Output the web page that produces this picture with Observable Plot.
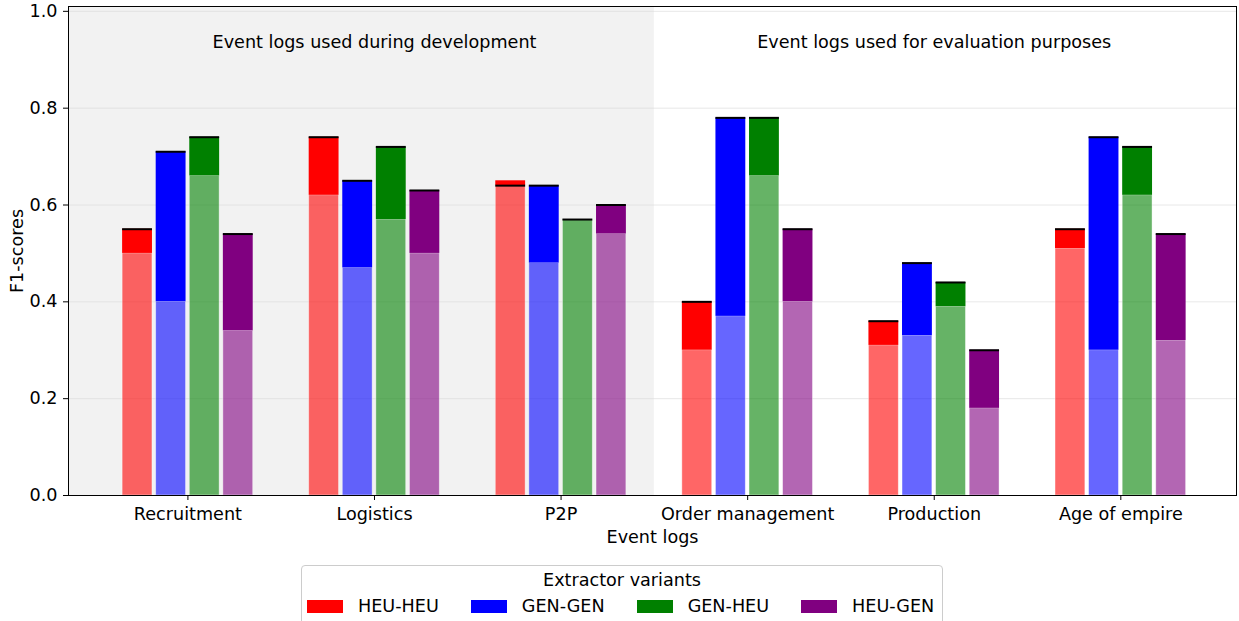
<!DOCTYPE html>
<html>
<head>
<meta charset="utf-8">
<script src="https://cdn.jsdelivr.net/npm/d3@7"></script>
<script src="https://cdn.jsdelivr.net/npm/@observablehq/plot@0.6"></script>
<style>
  body { margin: 0; background: #fff; font-family: "DejaVu Sans", sans-serif; }
  #chart { width: 1239px; }
  #chart svg { display: block; }
  .legend-box {
    margin-left: 301px; margin-top: 6px; width: 642px; height: 70px;
    border: 1px solid #cccccc; border-radius: 4px; background: #fff;
    font-size: 17.6px; color: #000; box-sizing: border-box;
    font-family: "DejaVu Sans", sans-serif; white-space: nowrap;
  }
  .legend-box .ttl { text-align: center; margin-top: 4px; line-height: 21px; }
  .legend-box .items { display: flex; margin-top: 5px; padding-left: 5px; line-height: 21px; }
  .legend-box .item { display: flex; flex: none; align-items: center; margin-right: 32px; }
  .legend-box .sw { flex: none; width: 36px; height: 13px; margin-right: 15px; }
  .legend-box .lbl { flex: none; white-space: nowrap; }
</style>
</head>
<body>
<div id="chart"></div>
<script>
// Event logs (x categories) and extractor variants (bar series)
const eventLogs = ["Recruitment", "Logistics", "P2P", "Order management", "Production", "Age of empire"];
const variants = ["HEU-HEU", "GEN-GEN", "GEN-HEU", "HEU-GEN"];
const variantColors = ["red", "blue", "green", "purple"];

// Lower F1-score per variant (light part of each bar), one value per event log
const lowHEUHEU = [0.50, 0.62, 0.64, 0.30, 0.31, 0.51];
const lowGENGEN = [0.40, 0.47, 0.48, 0.37, 0.33, 0.30];
const lowGENHEU = [0.66, 0.57, 0.57, 0.66, 0.39, 0.62];
const lowHEUGEN = [0.34, 0.50, 0.54, 0.40, 0.18, 0.32];

// Upper F1-score per variant (solid part of each bar)
const highHEUHEU = [0.55, 0.74, 0.65, 0.40, 0.36, 0.55];
const highGENGEN = [0.71, 0.65, 0.64, 0.78, 0.48, 0.74];
const highGENHEU = [0.74, 0.72, 0.57, 0.78, 0.44, 0.72];
const highHEUGEN = [0.54, 0.63, 0.60, 0.55, 0.30, 0.54];

// F1-score marked with a black line on each bar
const markHEUHEU = [0.55, 0.74, 0.64, 0.40, 0.36, 0.55];
const markGENGEN = [0.71, 0.65, 0.64, 0.78, 0.48, 0.74];
const markGENHEU = [0.74, 0.72, 0.57, 0.78, 0.44, 0.72];
const markHEUGEN = [0.54, 0.63, 0.60, 0.55, 0.30, 0.54];

const yTicks = [0, 0.2, 0.4, 0.6, 0.8, 1.0];
const regionTitles = ["Event logs used during development", "Event logs used for evaluation purposes"];
const legendTitle = "Extractor variants";

const lows = [lowHEUHEU, lowGENGEN, lowGENHEU, lowHEUGEN];
const highs = [highHEUHEU, highGENGEN, highGENHEU, highHEUGEN];
const marks = [markHEUHEU, markGENGEN, markGENHEU, markHEUGEN];

// Group layout: bar width and spacing in x units (one unit per event log)
const barStep = 0.18, barWidth = 0.16;
const xDomain = [-0.64, 5.62];
const devEnd = 2.5; // boundary between development and evaluation logs

const rows = [];
eventLogs.forEach((log, i) => {
  variants.forEach((v, j) => {
    const xc = i + (j - 1.5) * barStep;
    rows.push({log, variant: v, x1: xc - barWidth / 2, x2: xc + barWidth / 2,
      low: lows[j][i], high: highs[j][i], mark: marks[j][i]});
  });
});

const regions = [
  {x1: xDomain[0], x2: devEnd, xc: 1, title: regionTitles[0], fill: "#f2f2f2"},
  {x1: devEnd, x2: xDomain[1], xc: 4, title: regionTitles[1], fill: "#ffffff"}
];

const plot = Plot.plot({
  width: 1239,
  height: 559,
  marginLeft: 68,
  marginRight: 3,
  marginTop: 6,
  marginBottom: 64,
  style: {fontFamily: "DejaVu Sans, sans-serif", fontSize: "17.6px", color: "#000", background: "#fff"},
  x: {
    domain: xDomain,
    ticks: d3.range(eventLogs.length),
    tickFormat: i => eventLogs[i],
    tickSize: 5,
    tickPadding: 7,
    label: "Event logs",
    labelAnchor: "center",
    labelOffset: 47,
    labelArrow: false
  },
  y: {
    domain: [0, 1.01],
    ticks: yTicks,
    tickFormat: d3.format(".1f"),
    tickSize: 5,
    tickPadding: 6,
    label: "F1-scores",
    labelAnchor: "center",
    labelOffset: 58,
    labelArrow: false
  },
  color: {domain: variants, range: variantColors},
  marks: [
    Plot.rect(regions, {x1: "x1", x2: "x2", y1: 0, y2: 1.01, fill: "fill"}),
    Plot.ruleY(yTicks.filter(d => d > 0), {stroke: "#d9d9d9", strokeOpacity: 0.6, strokeWidth: 1}),
    Plot.text(regions, {x: "xc", y: 0.935, text: "title", fontSize: 17.6, fill: "#000"}),
    Plot.rectY(rows, {x1: "x1", x2: "x2", y1: 0, y2: "low", fill: "variant", fillOpacity: 0.6,
      stroke: "white", strokeOpacity: 0.5, strokeWidth: 0.8}),
    Plot.rectY(rows, {x1: "x1", x2: "x2", y1: "low", y2: "high", fill: "variant"}),
    Plot.ruleY(rows, {x1: "x1", x2: "x2", y: "mark", stroke: "black", strokeWidth: 2}),
    Plot.frame({stroke: "black", strokeWidth: 1})
  ]
});

const chart = document.getElementById("chart");
chart.appendChild(plot);

// Legend box below the plot
const legend = document.createElement("div");
legend.className = "legend-box";
const ttl = document.createElement("div");
ttl.className = "ttl";
ttl.textContent = legendTitle;
legend.appendChild(ttl);
const items = document.createElement("div");
items.className = "items";
variants.forEach((v, j) => {
  const item = document.createElement("div");
  item.className = "item";
  const sw = document.createElement("div");
  sw.className = "sw";
  sw.style.background = variantColors[j];
  const label = document.createElement("span");
  label.className = "lbl";
  label.textContent = v;
  item.appendChild(sw);
  item.appendChild(label);
  items.appendChild(item);
});
legend.appendChild(items);
chart.appendChild(legend);
</script>
</body>
</html>
